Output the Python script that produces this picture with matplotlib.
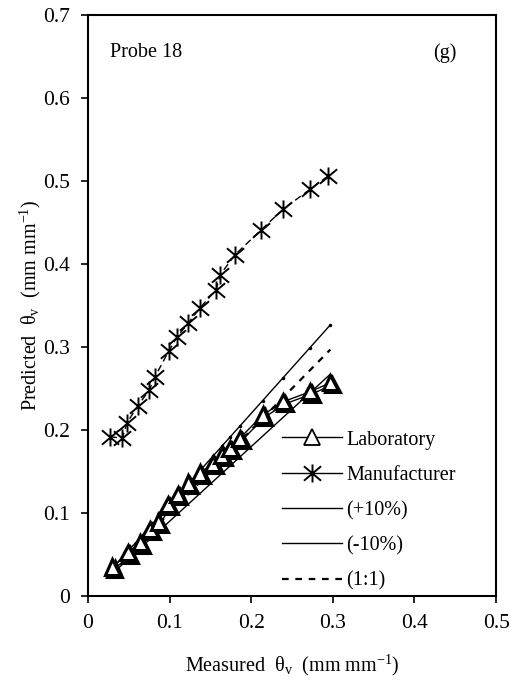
import numpy as np
import matplotlib
matplotlib.use('Agg')
import matplotlib.pyplot as plt
import matplotlib.patheffects as pe
from matplotlib.path import Path

plt.rcParams['font.family'] = ['Liberation Serif', 'DejaVu Serif']
plt.rcParams['mathtext.fontset'] = 'custom'
plt.rcParams['mathtext.rm'] = 'Liberation Serif'
plt.rcParams['mathtext.it'] = 'Liberation Serif:italic'

# measured vs predicted water content
lab_x = [0.030, 0.049, 0.064, 0.076, 0.086, 0.098, 0.110, 0.123, 0.137,
         0.153, 0.164, 0.174, 0.186, 0.214, 0.239, 0.272, 0.297]
lab_y = [0.035, 0.052, 0.064, 0.080, 0.089, 0.110, 0.122, 0.136, 0.148,
         0.160, 0.170, 0.178, 0.190, 0.218, 0.234, 0.246, 0.257]

man_x = [0.027, 0.042, 0.048, 0.061, 0.075, 0.082, 0.099, 0.109, 0.123,
         0.137, 0.157, 0.162, 0.180, 0.212, 0.239, 0.272, 0.294]
man_y = [0.192, 0.190, 0.209, 0.229, 0.248, 0.264, 0.295, 0.312, 0.329,
         0.347, 0.369, 0.387, 0.411, 0.441, 0.466, 0.490, 0.506]

x_ticks = [0, 0.1, 0.2, 0.3, 0.4, 0.5]
y_ticks = [0, 0.1, 0.2, 0.3, 0.4, 0.5, 0.6, 0.7]

ref_x = np.array(lab_x)

# asterisk marker: vertical bar plus a wide X
star = Path([(0, -1), (0, 1), (-0.95, -0.8), (0.95, 0.8), (-0.95, 0.8), (0.95, -0.8)],
            [Path.MOVETO, Path.LINETO, Path.MOVETO, Path.LINETO,
             Path.MOVETO, Path.LINETO])

fig = plt.figure(figsize=(5.13, 6.85), dpi=100)
ax = fig.add_axes([0.1715, 0.130, 0.7955, 0.848])

ax.plot(lab_x, lab_y, '-', color='k', lw=1.0, marker='^', ms=11,
        mfc='white', mec='k', mew=2.2, zorder=4,
        path_effects=[pe.SimpleLineShadow(offset=(1.5, -1.5),
                                          shadow_color='k', alpha=1),
                      pe.Normal()])
ax.plot(man_x, man_y, color='k', lw=1.0, ls=(0, (5, 3)), marker=star, ms=13,
        mew=1.4, zorder=3)
ax.plot(ref_x, ref_x * 1.1, '-', color='k', lw=1.0, marker='.', ms=3, zorder=2)
ax.plot(ref_x, ref_x * 0.9, '-', color='k', lw=1.0, zorder=2)
ax.plot(ref_x, ref_x, color='k', lw=1.6, ls=(0, (3, 3)), zorder=2)

# legend handles (plain, without the shadow)
h_lab, = ax.plot([], [], '-', color='k', lw=1.0, marker='^', ms=11,
                 mfc='white', mec='k', mew=1.3)
h_man, = ax.plot([], [], '-', color='k', lw=1.0, marker=star, ms=13, mew=1.4)
h_p10, = ax.plot([], [], '-', color='k', lw=1.0)
h_m10, = ax.plot([], [], '-', color='k', lw=1.0)
h_one, = ax.plot([], [], color='k', lw=1.6, ls=(0, (3, 3)))

ax.set_xlim(0, 0.5)
ax.set_ylim(0, 0.7)
ax.set_xticks(x_ticks)
ax.set_yticks(y_ticks)
ax.set_xticklabels([f'{v:g}' for v in x_ticks])
ax.set_yticklabels([f'{v:g}' for v in y_ticks])
ax.tick_params(direction='out', length=5, width=1.2, labelsize=15.5, pad=8)
for s in ax.spines.values():
    s.set_linewidth(1.5)

ax.set_xlabel(r'Measured  θ$_{\mathrm{v}}$  (mm mm$^{-1}$)', fontsize=14.5,
              labelpad=14)
ax.set_ylabel(r'Predicted  θ$_{\mathrm{v}}$  (mm mm$^{-1}$)', fontsize=14.5,
              labelpad=0)

ax.text(0.055, 0.935, 'Probe 18', transform=ax.transAxes, fontsize=14.5,
        va='center')
ax.text(0.845, 0.935, '(g)', transform=ax.transAxes, fontsize=14.5,
        va='center')

ax.legend([h_lab, h_man, h_p10, h_m10, h_one],
          ['Laboratory', 'Manufacturer', '(+10%)', '(-10%)', '(1:1)'],
          loc='lower left', bbox_to_anchor=(0.445, -0.012), frameon=False,
          fontsize=14.5, handlelength=3.0, handletextpad=0.2,
          labelspacing=0.8, borderaxespad=0.2)

fig.savefig('out.png', dpi=100)
